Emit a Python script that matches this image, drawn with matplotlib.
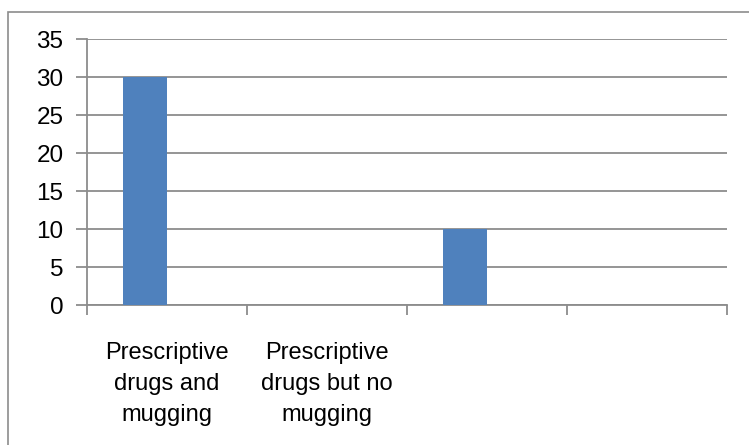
import matplotlib.pyplot as plt
import matplotlib.patches as patches
import numpy as np

# dados
categorias = ['Prescriptive\ndrugs and\nmugging', 'Prescriptive\ndrugs but no\nmugging', '', '']
serie1 = [30, 0, 10, 0]
serie2 = [0, 0, 0, 0]
y_ticks = [0, 5, 10, 15, 20, 25, 30, 35]

plt.rcParams['font.family'] = ['Liberation Sans', 'DejaVu Sans']

W, H = 749, 445
fig = plt.figure(figsize=(W / 100, H / 100), dpi=100)
ax = fig.add_axes([87 / W, (H - 305) / H, 640 / W, (305 - 39) / H])

x = np.arange(len(categorias))
largura = 0.275
ax.bar(x - largura, serie1, width=largura, align='edge', color='#4F81BD', zorder=3)
ax.bar(x, serie2, width=largura, align='edge', color='#C0504D', zorder=3)

cinza = '#8C8C8C'
ax.set_xlim(-0.5, len(categorias) - 0.5)
ax.set_ylim(0, 35)
ax.set_yticks(y_ticks)
ax.yaxis.grid(True, color=cinza, linewidth=1.3)
ax.set_axisbelow(True)

# ticks nas fronteiras das categorias, rótulos no centro
ax.set_xticks(np.arange(-0.5, len(categorias), 1.0))
ax.set_xticklabels([])
ax.set_xticks(x, minor=True)
ax.set_xticklabels(categorias, minor=True, fontsize=17, linespacing=1.5)
ax.tick_params(axis='x', which='major', length=7, width=1.3, color=cinza, direction='out')
ax.tick_params(axis='x', which='minor', length=0, pad=27)
ax.tick_params(axis='y', length=8, width=1.3, color=cinza, labelsize=17.5, pad=9)

for lado in ['top', 'right']:
    ax.spines[lado].set_visible(False)
for lado in ['left', 'bottom']:
    ax.spines[lado].set_color(cinza)
    ax.spines[lado].set_linewidth(1.3)

# moldura do gráfico (cortada à direita e em baixo)
fig.add_artist(patches.Rectangle((8 / W, -0.5), 1.5, 1.5 - 12 / H,
                                 transform=fig.transFigure, fill=False,
                                 edgecolor='#8C8C8C', linewidth=1.2))

fig.savefig('out.png', dpi=100)
